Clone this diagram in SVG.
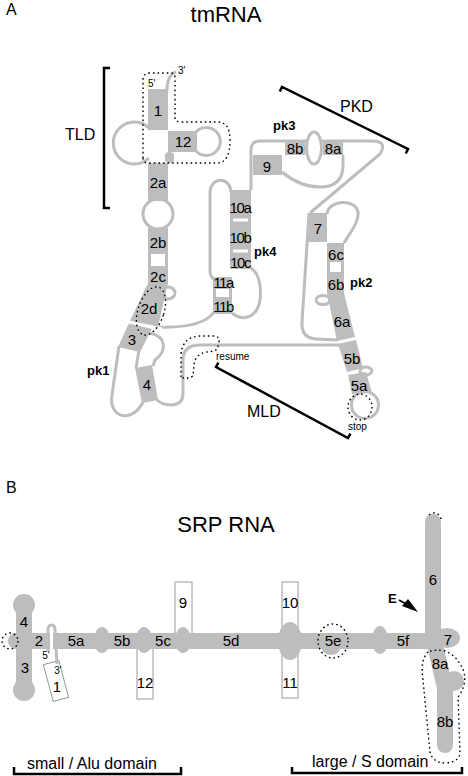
<svg xmlns="http://www.w3.org/2000/svg" width="468" height="776" viewBox="0 0 468 776">
<style>
.g{fill:#bdbdbd}
.s{fill:none;stroke:#bdbdbd;stroke-width:3}
.sw{fill:#fff;stroke:#bdbdbd;stroke-width:3}
.w{stroke:#fff;stroke-width:3}
.d{fill:none;stroke:#000;stroke-width:1.4;stroke-dasharray:1.6 3}
.k{fill:none;stroke:#000;stroke-width:2.5}
.bx{fill:#fff;stroke:#9a9a9a;stroke-width:1}
text{font-family:"Liberation Sans",Arial,Helvetica,sans-serif;fill:#000}
.t{font-size:15px;text-anchor:middle}
.tc{font-size:15px;text-anchor:middle;letter-spacing:-1.4px}
.u{font-size:15px;text-anchor:middle}
.b{font-size:13px;font-weight:bold}
.sm{font-size:10px}
.L{font-size:16px}
.H{font-size:22px;text-anchor:middle}
</style>
<text x="6" y="15" class="L">A</text>
<text x="226" y="22" class="H">tmRNA</text>

<g id="tm-backbone">
<path class="s" d="M167,91 C167,80 170,74 176,72"/>
<path class="s" d="M149,128 A21,21 0 1 0 149,158"/>
<path class="s" d="M196,132 A14,14 0 1 1 196,151"/>
<circle class="s" cx="158" cy="214" r="15"/>
<ellipse class="s" cx="168" cy="293" rx="7" ry="6"/>
<path class="s" d="M149,333 C166,336 168,350 155,360 L153,366"/>
<path class="s" d="M139,350 L136,368"/>
<path class="s" d="M119,346 L112,395 C108,418 132,424 143,402"/>
<path class="s" d="M157,400 Q162,405 172,405 Q183,404 183,394 L183,360 Q183,345 200,345 L340,345"/>
<path class="s" d="M156,327 C180,328 205,325 214,312"/>
<path class="s" d="M231,193 C231,176 210,176 210,193 L210,270 Q210,277 214,279"/>
<path class="s" d="M251,268 C262,275 263,300 256,311 C249,320 239,319 232,313"/>
<path class="s" d="M251,190 L251,150 Q251,141 260,141 L372,141 Q388,141 380,154 L310,213"/>
<ellipse class="sw" cx="314" cy="148" rx="7.5" ry="16"/>
<path class="s" d="M282,172 Q300,187 320,187 Q343,187 343,165 L343,155"/>
<path class="s" d="M327,214 C328,200 355,198 358,212 C359,222 350,233 344,243"/>
<path class="s" d="M309,213 L302,322 Q301,338 316,339 L338,340"/>
<ellipse class="sw" cx="323" cy="300" rx="7" ry="4.5"/>
<circle class="s" cx="365" cy="405" r="13.5"/>
<ellipse class="sw" cx="366" cy="371" rx="6" ry="4"/>
</g>

<g id="tm-TLD">
<rect class="g" x="148" y="89" width="20" height="41"/>
<rect class="g" x="168" y="131" width="29" height="21"/>
<rect class="g" x="165" y="152" width="9" height="11" rx="4"/>
<rect class="g" x="148" y="163" width="20" height="38"/>
<text x="158" y="116" class="t">1</text>
<text x="183" y="147" class="t">12</text>
<text x="158" y="188" class="t">2a</text>
<text x="148" y="87" class="sm">5'</text>
<text x="178" y="74" class="sm">3'</text>
</g>

<g id="tm-stem2">
<rect class="g" x="148" y="228" width="20" height="55"/>
<rect fill="#fff" x="151" y="254" width="14" height="12"/>
<polygon class="g" points="148,283 168,283 158,327 130,321"/>
<polygon class="g" points="129,323 152,329 140,352 118,347"/>
<line class="w" x1="128" y1="322" x2="162" y2="329"/>
<polygon class="g" points="135,368 152,365 158,400 142,403"/>
<text x="158" y="248" class="t">2b</text>
<text x="158" y="282" class="t">2c</text>
<text x="149" y="314" class="t">2d</text>
<text x="132" y="345" class="t">3</text>
<text x="147" y="390" class="t">4</text>
<text x="87" y="375" class="b">pk1</text>
</g>

<g id="tm-pk4">
<rect class="g" x="230" y="190" width="21" height="79"/>
<line class="w" x1="233" y1="220" x2="248" y2="220"/>
<line class="w" x1="233" y1="251" x2="248" y2="251"/>
<rect class="g" x="213" y="277" width="19" height="37"/>
<rect fill="#fff" x="216" y="289" width="13" height="8"/>
<text x="240" y="213" class="tc">10a</text>
<text x="240" y="243" class="tc">10b</text>
<text x="240" y="268" class="tc">10c</text>
<text x="223" y="288" class="tc">11a</text>
<text x="223" y="312" class="tc">11b</text>
<text x="254" y="256" class="b">pk4</text>
</g>

<g id="tm-pk3">
<rect class="g" x="253" y="155" width="29" height="20"/>
<rect class="g" x="285" y="140" width="20" height="15"/>
<rect class="g" x="323" y="140" width="20" height="15"/>
<text x="267" y="172" class="t">9</text>
<text x="295" y="154" class="t">8b</text>
<text x="333" y="154" class="t">8a</text>
<text x="273" y="130" class="b">pk3</text>
</g>

<g id="tm-pk2">
<rect class="g" x="308" y="213" width="19" height="29"/>
<rect class="g" x="327" y="243" width="17" height="50"/>
<rect fill="#fff" x="330" y="262" width="11" height="10"/>
<polygon class="g" points="327,293 344,293 355,337 337,341"/>
<polygon class="g" points="338,344 356,340 363,368 347,372"/>
<polygon class="g" points="348,375 366,372 372,393 352,394"/>
<text x="318" y="234" class="t">7</text>
<text x="336" y="260" class="t">6c</text>
<text x="336" y="290" class="t">6b</text>
<text x="350" y="287" class="b">pk2</text>
<text x="342" y="327" class="t">6a</text>
<text x="352" y="364" class="t">5b</text>
<text x="359" y="391" class="t">5a</text>
</g>

<g id="tm-annotations">
<path class="d" d="M143,158 L143,80 Q143,73 150,73 L171,73 Q175,73 175,78 L175,117 Q175,122 181,122 L218,122 Q230,122 230,140 Q230,163 217,163 L148,163 Q143,163 143,158 Z"/>
<ellipse class="d" cx="151" cy="311" rx="13" ry="25" transform="rotate(18 151 311)"/>
<path class="d" d="M181,377 L181,355 Q182,337 200,336 L215,336 Q220,337 219,342 Q218,350 214,351 L207,352 Q195,354 194,365 L193,376 Q187,380 181,377 Z"/>
<ellipse class="d" cx="360" cy="407" rx="12" ry="13"/>
<text x="216" y="360" class="sm">resume</text>
<text x="348" y="430" class="sm">stop</text>
<polyline class="k" points="110,68 104,68 104,208 110,208"/>
<text x="65" y="140" class="L">TLD</text>
<polyline class="k" points="279.8,91.5 282,87 408,149 405.8,153.5"/>
<text x="340" y="112" class="L">PKD</text>
<polyline class="k" points="218.4,362.6 216,367 348,438 350.4,433.6"/>
<text x="247" y="417" class="L">MLD</text>
</g>

<text x="6" y="493" class="L">B</text>
<text x="226" y="532" class="H">SRP RNA</text>

<g id="srp-boxes">
<rect class="bx" x="175" y="582" width="17" height="52"/>
<rect class="bx" x="137" y="648" width="16" height="51"/>
<rect class="bx" x="282" y="582" width="16" height="46"/>
<rect class="bx" x="282" y="652" width="16" height="46"/>
<rect class="bx" x="48" y="662" width="16" height="38" transform="rotate(-15 56 681)"/>
</g>

<g id="srp-body">
<rect class="g" x="8" y="633" width="432" height="16" rx="8"/>
<ellipse class="g" cx="447" cy="638" rx="13" ry="10"/>
<rect class="g" x="16" y="605" width="16" height="85"/>
<circle class="g" cx="24" cy="605" r="11"/>
<circle class="g" cx="24" cy="690" r="11"/>
<rect class="g" x="425" y="514" width="16" height="130" rx="8"/>
<path d="M435,645 L445,688 L445,745" fill="none" stroke="#bdbdbd" stroke-width="16" stroke-linecap="round" stroke-linejoin="round"/>
<circle class="g" cx="454" cy="681" r="10"/>
<ellipse class="g" cx="102" cy="640" rx="8" ry="13"/>
<ellipse class="g" cx="144" cy="640" rx="8" ry="13"/>
<ellipse class="g" cx="183" cy="640" rx="8" ry="13"/>
<ellipse class="g" cx="290" cy="641" rx="12" ry="19"/>
<ellipse class="g" cx="331" cy="648" rx="9" ry="7"/>
<ellipse class="g" cx="380" cy="640" rx="8" ry="14"/>
<line class="w" x1="51.5" y1="628" x2="51.5" y2="650"/>
<path class="s" d="M48,651 L48,630 Q48,625 51.5,625 Q55,625 55,630 L57,664"/>
</g>

<g id="srp-labels">
<text x="24" y="627" class="u">4</text>
<text x="25" y="673" class="u">3</text>
<text x="39" y="646" class="u">2</text>
<text x="46" y="659" class="sm" text-anchor="middle">5'</text>
<text x="58" y="674" class="sm" text-anchor="middle">3'</text>
<text x="57" y="692" class="u">1</text>
<text x="76" y="646" class="u">5a</text>
<text x="122" y="646" class="u">5b</text>
<text x="163" y="646" class="u">5c</text>
<text x="183" y="608" class="u">9</text>
<text x="145" y="688" class="u">12</text>
<text x="231" y="646" class="u">5d</text>
<text x="290" y="608" class="u">10</text>
<text x="290" y="688" class="u">11</text>
<text x="333" y="646" class="u">5e</text>
<text x="403" y="646" class="u">5f</text>
<text x="448" y="645" class="u">7</text>
<text x="433" y="585" class="u">6</text>
<text x="440" y="669" class="u">8a</text>
<text x="445" y="727" class="u">8b</text>
</g>

<g id="srp-annotations">
<circle class="d" cx="10" cy="641" r="8"/>
<ellipse class="d" cx="333" cy="641" rx="15" ry="17"/>
<path class="d" d="M429,515 A7,7 0 0 1 441,520"/>
<path class="d" d="M428,652 Q420,660 423,680 L430,752 Q433,763 445,763 Q460,762 460,752 L458,697 Q467,685 464,672 Q458,656 445,651 Q436,649 428,652 Z"/>
<text x="388" y="603" class="b">E</text>
<line x1="399" y1="600" x2="408" y2="605" stroke="#000" stroke-width="1.5"/>
<polygon points="418,612 402,606 408,599" fill="#000"/>
<polyline class="k" points="14,767 14,774 181,774 181,767"/>
<text x="27" y="769" class="L">small / Alu domain</text>
<polyline class="k" points="292,767 292,773 462,773 462,767"/>
<text x="312" y="767" class="L">large / S domain</text>
</g>
</svg>
